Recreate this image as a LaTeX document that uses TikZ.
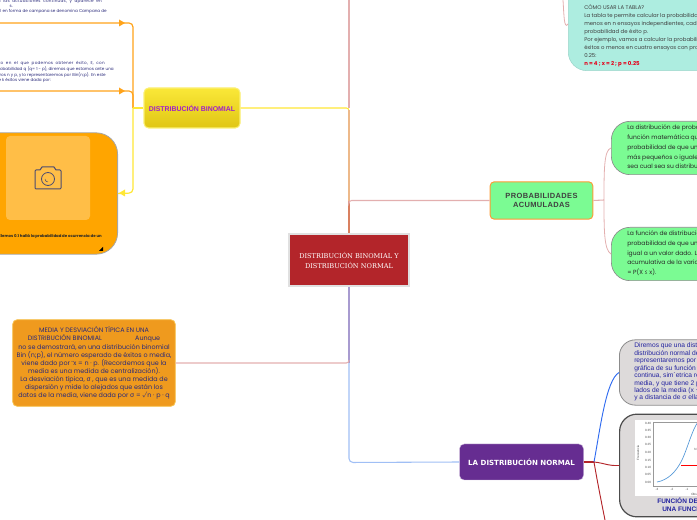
\documentclass[tikz,border=0pt]{standalone}
\usepackage{fontspec}
\setmainfont{Poppins}
\newfontfamily\arialf{Liberation Sans}
\newfontfamily\slabf{DejaVu Serif}
\newfontfamily\djf{DejaVu Sans}
\usetikzlibrary{arrows.meta}
\newcommand\widetxt[1]{{\addfontfeatures{LetterSpace=6}\spaceskip=2pt\relax #1}}
\definecolor{boxorange}{HTML}{FFA500}
\definecolor{mediabox}{HTML}{EF9A1E}
\definecolor{mediaborder}{HTML}{F7C04A}
\definecolor{purplebox}{HTML}{662D91}
\definecolor{lineorange}{HTML}{FFA31A}
\definecolor{lineyellow}{HTML}{FFE735}
\definecolor{linepink}{HTML}{E3AFAF}
\definecolor{linepeach}{HTML}{EDB98A}
\definecolor{linerust}{HTML}{D98060}
\definecolor{linelav}{HTML}{A89BD0}
\definecolor{linesky}{HTML}{A0BFF5}
\definecolor{lineblue}{HTML}{2F6BF0}
\definecolor{linered}{HTML}{B3252A}
\definecolor{cyanbox}{HTML}{ADEDE0}
\definecolor{greenbox}{HTML}{7BFB93}
\definecolor{graybox}{HTML}{DDDADA}
\definecolor{navytxt}{HTML}{2424A0}
\definecolor{smalltxt}{HTML}{2A2A7A}
\definecolor{binomtxt}{HTML}{A020C8}
\definecolor{ytop}{HTML}{FAE838}
\definecolor{ybot}{HTML}{E0C615}
\tikzset{
 x=0.75pt,y=-0.75pt,
 conn/.style={line width=0.9pt,rounded corners=3pt},
 lab/.style={inner sep=0pt,anchor=base west,yshift=-1.3pt,font=\fontsize{4.05}{5}\selectfont},
 tiny/.style={inner sep=0pt,text=smalltxt,anchor=base east,yshift=-1pt,font=\fontsize{3.1}{3.6}\selectfont},
 mini/.style={inner sep=0pt,text=black!70,font=\arialf\fontsize{2.3}{2.7}\selectfont},
 cyanl/.style={lab,text=black!75},
 greenl/.style={lab,text=black!85,font=\fontsize{4.5}{5}\selectfont},
 grayl/.style={lab,text=navytxt,font=\arialf\fontsize{5}{6}\selectfont},
}
\begin{document}
\begin{tikzpicture}
\useasboundingbox (0,0) rectangle (697,520);
\clip (0,0) rectangle (697,520);
% nodes: boxes
\node[minimum width=90pt,minimum height=39pt,inner sep=0pt,fill=linered,draw=black!12,line width=1.2pt,align=center,text=white,font=\slabf\fontsize{4.95}{7.5}\selectfont] (central) at (349,260) {DISTRIBUCIÓN BINOMIAL Y\\DISTRIBUCIÓN NORMAL};
\node[minimum width=72pt,minimum height=30pt,inner sep=0pt,rounded corners=3.5pt,top color=ytop,bottom color=ybot,draw=ytop!70!white,line width=0.8pt,text=binomtxt,font=\arialf\bfseries\fontsize{5.2}{6}\selectfont] (binom) at (192,108) {DISTRIBUCIÓN BINOMIAL};
\node[minimum width=77pt,minimum height=28pt,inner sep=0pt,rounded corners=3pt,fill=greenbox,draw=orange!80,line width=0.7pt,align=center,text=black!75,font=\arialf\bfseries\fontsize{5.6}{7.3}\selectfont] (acum) at (541.5,200.5) {\addfontfeatures{LetterSpace=5}PROBABILIDADES\\\addfontfeatures{LetterSpace=5}ACUMULADAS};
\node[minimum width=93pt,minimum height=27pt,inner sep=0pt,rounded corners=3.5pt,fill=purplebox,draw=purplebox!30!white,line width=0.3pt,text=white,font=\djf\bfseries\fontsize{5.3}{6}\selectfont] (normal) at (521.5,462) {LA DISTRIBUCIÓN NORMAL};
\node[minimum width=122pt,minimum height=65pt,inner sep=0pt,rounded corners=3.5pt,fill=mediabox,draw=mediaborder,line width=0.6pt,align=center,text=smalltxt,font=\fontsize{4.8}{6.05}\selectfont] (media) at (94,363) {MEDIA Y DESVIACIÓN TÍPICA EN UNA\\DISTRIBUCIÓN BINOMIAL\hspace{25pt}Aunque\\no se demostrará, en una distribución binomial\\Bin (n;p), el número esperado de éxitos o media,\\viene dado por $\bar{\ }$x = n · p. (Recordemos que la\\media es una medida de centralización).\\La desviación típica, {\djf σ} , que es una medida de\\dispersión y mide lo alejados que están los\\datos de la media, viene dada por {\djf σ} = √n · p · q};
% right side boxes
\node[anchor=west,minimum width=110pt,minimum height=70pt,inner sep=0pt,rounded corners=14pt,fill=cyanbox,draw=cyanbox!90!black,line width=0.4pt] (cyan) at (568,24) {};
\node[anchor=west,minimum width=90pt,minimum height=40pt,inner sep=0pt,rounded corners=14pt,fill=greenbox,draw=black!45,line width=0.5pt] (green1) at (611,148) {};
\node[anchor=west,minimum width=90pt,minimum height=40pt,inner sep=0pt,rounded corners=14pt,fill=greenbox,draw=black!45,line width=0.5pt] (green2) at (611,254) {};
\node[anchor=west,minimum width=90pt,minimum height=49pt,inner sep=0pt,rounded corners=12pt,fill=graybox,draw=black!45,line width=0.6pt] (gray1) at (619,372.5) {};
\node[anchor=west,minimum width=90pt,minimum height=77pt,inner sep=0pt,rounded corners=13pt,fill=graybox,draw=black!70,line width=0.9pt] (gray2) at (619,465.5) {};
% orange card
\node[anchor=east,minimum width=110pt,minimum height=91pt,inner sep=0pt,rounded corners=16pt,fill=boxorange,draw=black!35,line width=0.6pt] (card) at (118,193.5) {};
% coordinates
\coordinate (jl) at (133,108);
\coordinate (a1) at (0,23);
\coordinate (a2) at (0,91);
\coordinate (jr) at (604,200);
\coordinate (jn) at (594,462);
\coordinate (topv) at (349,0);
\coordinate (topc) at (563,0);
\coordinate (bot) at (605,520);
\coordinate (jt) at (349,108);
\coordinate (jm) at (349,201);
\coordinate (jb) at (349,363);
% connectors
\draw[linepink,line width=0.8pt] (topv) -- (jt);
\draw[lineyellow,line width=0.8pt,rounded corners=2pt] (binom.east) -- (jt) -- ++(0,3);
\draw[linepeach,line width=0.8pt] (349,110) -- (jm);
\draw[linerust,line width=0.8pt] (jm) -- (central.north);
\draw[linepink,line width=0.8pt,rounded corners=2pt] (acum.west) -- (jm |- acum.west) -- (jm);
\draw[linelav,line width=0.8pt] (central.south) -- (jb);
\draw[linesky,line width=0.8pt,rounded corners=3pt] (jb) -- (349,462.5) -- (normal.west);
\draw[linepink,line width=0.8pt,rounded corners=2pt] (media.east) -- (jb) -- ++(0,-3);
\draw[lineorange,conn] (jl) -- (133,23) -- (a1);
\draw[lineorange,conn] (jl) -- (133,91) -- (a2);
\draw[lineyellow,line width=1pt] (binom.west) -- (jl);
\draw[lineyellow,conn] (jl) -- (133,193) -- (card.east);
\fill[lineorange] (119,19.5) -- (125,23) -- (119,26.5) -- cycle;
\fill[lineorange] (119,87.5) -- (125,91) -- (119,94.5) -- cycle;
\fill[lineyellow] (119,193) -- (125,189.5) -- (125,196.5) -- cycle;
\draw[linepink,line width=0.8pt] (acum.east) -- (jr);
\draw[linepink,line width=0.6pt] (jr) .. controls (604,170) and (604,150) .. (green1.west);
\draw[linepink,line width=0.6pt] (jr) .. controls (604,230) and (604,250) .. (green2.west);
\draw[linepink,line width=0.6pt] (topc) .. controls (564,15) and (564,30) .. (cyan.west);
\draw[linered,line width=0.8pt] (normal.east) -- (jn);
\draw[lineblue,line width=0.7pt] (jn) .. controls (600,430) and (606,380) .. (gray1.west);
\draw[linered,line width=0.7pt] (jn) .. controls (604,463) and (608,466) .. (gray2.west);
\draw[linered,line width=0.7pt] (jn) .. controls (597,480) and (602,505) .. (bot);
% cropped text at left
\node[tiny] (t1) at (102,1.5) {\widetxt{mporta las actuaciones continuas, y aparece en}};
\node[tiny] (t2) at (13,6) {s.};
\node[tiny] (t3) at (107,11) {rmal en forma de campana se denomina Campana de};
\node[tiny] (t4) at (105,63) {\widetxt{imento en el que podemos obtener éxito, E, con}};
\node[tiny] (t5) at (114,69) {probabilidad q (q= 1 - p), diremos que estamos ante una};
\node[tiny] (t6) at (106,75) {ámetros n y p, y lo representaremos por Bin(n;p). En este};
\node[tiny] (t7) at (51,80) {e k éxitos viene dada por:};
% card content
\node[minimum width=63pt,minimum height=63pt,inner sep=0pt,rounded corners=3pt,fill=white!28!boxorange] (photo) at (48,178) {};
\draw[black!65!blue!40!gray,line width=0.75pt,line join=round] (36,170) -- (40,170) -- (42,167) -- (54,167) -- (56,170) -- (60,170) -- (61,171) -- (61,188) -- (60,189) -- (36,189) -- (35,188) -- (35,171) -- cycle;
\draw[black!65!blue!40!gray,line width=0.6pt] (48,179) circle (6.5);
\draw[black!65!blue!40!gray,line width=0.4pt] (45,179) arc (180:90:3);
\node[inner sep=0pt,anchor=east,text=black!85,font=\fontsize{2.9}{3.4}\bfseries\selectfont] (cardtxt) at (102,236.5) {ial. Elemos 0.1 hallá la probabilidad de ocurrencia de un};
\fill[black] (99,251) -- (103,251) -- (103,247) -- cycle;
% cyan text
\node[cyanl] (c1) at (584,8) {CÓMO USAR LA TABLA?};
\node[cyanl] (c2) at (584,16) {La tabla te permite calcular la probabilidad de};
\node[cyanl] (c3) at (584,24) {menos en n ensayos independientes, cada uno};
\node[cyanl] (c4) at (584,32) {probabilidad de éxito p.};
\node[cyanl] (c5) at (584,40) {Por ejemplo, vamos a calcular la probabilidad de};
\node[cyanl] (c6) at (584,48) {éxitos o menos en cuatro ensayos con probabilidad};
\node[cyanl] (c7) at (584,56) {0.25:};
\node[lab,text=red!80!violet,font=\fontsize{4.05}{5}\bfseries\selectfont] (c8) at (584,64) {n = 4 ; x = 2 ; p = 0.25};
% green text
\node[greenl] (g1) at (627,128) {La distribución de probabilidad};
\node[greenl] (g2) at (627,138) {función matemática que};
\node[greenl] (g3) at (627,148) {probabilidad de que un valor};
\node[greenl] (g4) at (627,157.5) {más pequeños o iguales};
\node[greenl] (g5) at (627,167) {sea cual sea su distribución};
\node[greenl] (h1) at (627,234) {La función de distribución};
\node[greenl] (h2) at (627,244) {probabilidad de que un valor};
\node[greenl] (h3) at (627,253.5) {igual a un valor dado. La};
\node[greenl] (h4) at (627,263) {acumulativa de la variable};
\node[greenl] (h5) at (627,272.5) {= P(X ≤ x).};
% gray 1 text
\node[grayl] (d1) at (634,346) {Diremos que una distribución};
\node[grayl] (d2) at (634,353.5) {distribución normal de};
\node[grayl] (d3) at (634,361) {representaremos por};
\node[grayl] (d4) at (634,368.5) {gráfica de su función};
\node[grayl] (d5) at (634,376) {continua, sim´etrica respecto};
\node[grayl] (d6) at (634,383.5) {media, y que tiene 2 puntos};
\node[grayl] (d7) at (634,391) {lados de la media (x −};
\node[grayl] (d8) at (634,398) {y a distancia de σ ella};
% gray 2 chart
\node[anchor=north west,minimum width=60pt,minimum height=57pt,inner sep=0pt,fill=white] (panel) at (635,420) {};
\draw[black!40,line width=0.25pt] (653,422) -- (653,486) -- (700,486);
\draw[black!40,line width=0.25pt] (653,422) -- (700,422);
\draw[cyan!60!blue!70,line width=0.5pt] (657,482) .. controls (668,480) and (676,472) .. (682,460) .. controls (688,447) and (692,430) .. (698,422);
\draw[red,line width=0.5pt] (681,465) -- (700,465);
\node[mini,rotate=90] (ylab) at (638,453) {Frecuencia};
\node[mini] (y1) at (648,423) {0.40};
\node[mini] (y2) at (648,430) {0.35};
\node[mini] (y3) at (648,437) {0.30};
\node[mini] (y4) at (648,444) {0.25};
\node[mini] (y5) at (648,452) {0.20};
\node[mini] (y6) at (648,460) {0.15};
\node[mini] (y7) at (648,467) {0.10};
\node[mini] (y8) at (648,474) {0.05};
\node[mini] (y9) at (648,482) {0.00};
\node[mini] (x1) at (657,489) {-3};
\node[mini] (x2) at (672,489) {-2};
\node[mini] (x3) at (687,489) {-1};
\node[mini,anchor=west] (x4) at (691,494) {Obs};
\node[mini,anchor=west] (n1) at (694,449) {N};
\node[lab,text=navytxt,font=\arialf\bfseries\fontsize{4.9}{6}\selectfont] (f1) at (657,502) {FUNCIÓN DE DENSIDAD};
\node[lab,text=navytxt,font=\arialf\bfseries\fontsize{4.9}{6}\selectfont] (f2) at (662,510) {UNA FUNCIÓN};
\end{tikzpicture}
\end{document}
